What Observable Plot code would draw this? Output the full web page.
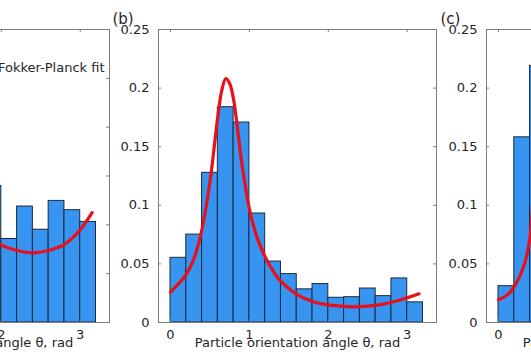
<!DOCTYPE html>
<html>
<head>
<meta charset="utf-8">
<script src="https://cdn.jsdelivr.net/npm/d3@7"></script>
<script src="https://cdn.jsdelivr.net/npm/@observablehq/plot@0.6"></script>
<style>
  html, body { margin: 0; padding: 0; background: #fff; }
  #wrap { position: relative; width: 531px; height: 354px; overflow: hidden; background: #fff; }
  #wrap > div { position: absolute; top: 0; width: 330px; height: 354px; }
  #wrap svg { max-width: none !important; }
</style>
</head>
<body>
<div id="wrap">
  <div id="pa"></div>
  <div id="pb"></div>
  <div id="pc"></div>
</div>
<script>
// ---- data ----
const binWidth = 0.2;
const xTicks = [0, 1, 2, 3];
const yTicksBC = [0, 0.05, 0.1, 0.15, 0.2, 0.25];
const yTicksA = [0, 0.02, 0.04, 0.06, 0.08, 0.1, 0.12];
const xLabel = "Particle orientation angle θ, rad";
const legendLabel = "Fokker-Planck fit";

// panel (a): only the right part is visible
const binLeftA = [1.8, 2.0, 2.2, 2.4, 2.6, 2.8, 3.0];
const probA    = [0.0559, 0.0342, 0.0475, 0.038, 0.0498, 0.046, 0.0412];
const fitAx = [1.8, 1.99, 2.2, 2.4, 2.6, 2.8, 3.0, 3.15];
const fitAy = [0.0365, 0.032, 0.0295, 0.0285, 0.0295, 0.032, 0.038, 0.045];

// panel (b)
const binLeftB = [0, 0.2, 0.4, 0.6, 0.8, 1.0, 1.2, 1.4, 1.6, 1.8, 2.0, 2.2, 2.4, 2.6, 2.8, 3.0];
const probB    = [0.0552, 0.075, 0.1277, 0.1837, 0.1706, 0.093, 0.052, 0.0413, 0.0283, 0.0328, 0.0211, 0.0216, 0.029, 0.0225, 0.0376, 0.0172];
const fitBx = [0, 0.1, 0.2, 0.3, 0.4, 0.5, 0.6, 0.65, 0.7, 0.75, 0.8, 0.85, 0.9, 1.0, 1.1, 1.2, 1.3, 1.4, 1.6, 1.8, 2.0, 2.3, 2.6, 2.9, 3.15];
const fitBy = [0.026, 0.033, 0.041, 0.055, 0.08, 0.12, 0.176, 0.198, 0.208, 0.204, 0.19, 0.165, 0.138, 0.097, 0.072, 0.056, 0.044, 0.035, 0.024, 0.018, 0.015, 0.0134, 0.0146, 0.019, 0.0245];

// panel (c): only the left part is visible
const binLeftC = [0, 0.2, 0.4];
const probC    = [0.031, 0.158, 0.219];
const fitCx = [0, 0.12, 0.22, 0.33, 0.4, 0.43, 0.47];
const fitCy = [0.0194, 0.024, 0.033, 0.050, 0.073, 0.098, 0.13];

// ---- style ----
const barFill = "#3794f0";
const barStroke = "#1c2b3c";
const fitColor = "#e8101a";
const frameColor = "#7d7d7d";
const textColor = "#262626";

const W = 330, H = 354, ML = 50, MR = 2, MT = 29, MB = 32;
const FW = W - ML - MR, FH = H - MT - MB;
const xDomain = [-0.152, 3.371];

function panel(binLeft, prob, fx, fy, yTicks, yMax, tag, legend) {
  const bars = binLeft.map((x, i) => ({x0: x, x1: x + binWidth, p: prob[i]}));
  const fit = fx.map((x, i) => ({x, y: fy[i]}));
  const marks = [
    Plot.rectY(bars, {x1: "x0", x2: "x1", y: "p", fill: barFill, stroke: barStroke, strokeWidth: 1, inset: 0}),
    Plot.line(fit, {x: "x", y: "y", stroke: fitColor, strokeWidth: 3.2, curve: "catmull-rom"}),
    Plot.frame({stroke: frameColor}),
    Plot.tickX(xTicks, {x: d => d, stroke: frameColor, insetTop: FH - 3}),
    Plot.tickX(xTicks, {x: d => d, stroke: frameColor, insetBottom: FH - 3}),
    Plot.tickY(yTicks, {y: d => d, stroke: frameColor, insetRight: FW - 3}),
    Plot.tickY(yTicks, {y: d => d, stroke: frameColor, insetLeft: FW - 3}),
    Plot.axisX(xTicks, {tickSize: 0, tickPadding: 7, label: null, tickFormat: d => String(d), fill: textColor}),
    Plot.axisY(yTicks, {tickSize: 0, tickPadding: 9, label: null, tickFormat: d => String(d), fill: textColor}),
    Plot.text([xLabel], {text: d => d, frameAnchor: "bottom", dy: 24, fill: textColor}),
    Plot.text([tag], {text: d => d, frameAnchor: "top-left", textAnchor: "start", dx: -46, dy: -16, fill: textColor, fontSize: 15})
  ];
  if (legend) {
    marks.push(Plot.text([legend], {text: d => d, frameAnchor: "top-right", textAnchor: "end", dx: -5, dy: 33, fill: textColor}));
  }
  return Plot.plot({
    width: W, height: H,
    marginLeft: ML, marginRight: MR, marginTop: MT, marginBottom: MB,
    x: {domain: xDomain},
    y: {domain: [0, yMax]},
    style: {fontFamily: "DejaVu Sans", fontSize: "13px", color: textColor, background: "transparent", overflow: "visible", maxWidth: "none"},
    marks
  });
}

const pa = document.getElementById("pa");
const pb = document.getElementById("pb");
const pc = document.getElementById("pc");
pa.style.left = "-219px";
pb.style.left = "108px";
pc.style.left = "436px";
pa.appendChild(panel(binLeftA, probA, fitAx, fitAy, yTicksA, 0.12, "(a)", legendLabel));
pb.appendChild(panel(binLeftB, probB, fitBx, fitBy, yTicksBC, 0.25, "(b)", null));
pc.appendChild(panel(binLeftC, probC, fitCx, fitCy, yTicksBC, 0.25, "(c)", null));
</script>
</body>
</html>
